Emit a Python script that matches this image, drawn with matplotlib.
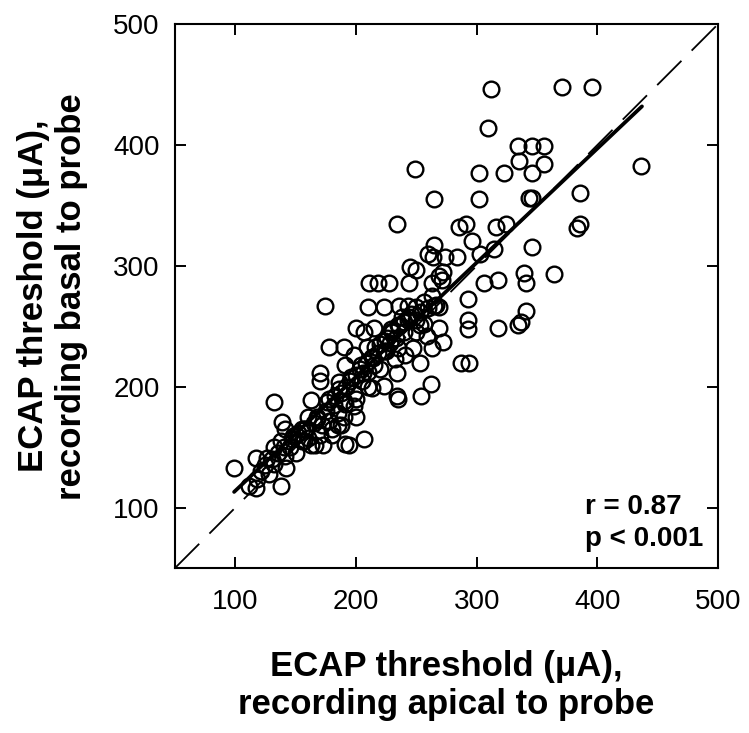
import numpy as np
import matplotlib
matplotlib.use("Agg")
import matplotlib.pyplot as plt

plt.rcParams['font.family'] = ['Liberation Sans', 'DejaVu Sans']

# thresholds (uA)
apical = [312, 371, 396, 309, 334, 346, 356, 335, 356, 346, 436, 249, 302, 323,
          265, 302, 343, 346, 386, 386, 383, 234, 285, 291, 316, 324, 296, 265,
          260, 264, 274, 284, 303, 314, 346, 245, 250, 272, 269, 211, 218, 227,
          244, 263, 271, 306, 318, 339, 341, 364, 174, 210, 223, 236, 243, 250,
          265, 269, 293, 341, 337, 334, 293, 293, 318, 200, 207, 215, 229, 235,
          240, 253, 269, 250, 259, 178, 190, 198, 209, 216, 225, 235, 247, 263,
          272, 232, 241, 253, 287, 294, 170, 170, 191, 206, 186, 223, 234, 213,
          262, 234, 235, 254, 132, 163, 176, 183, 191, 198, 200, 185, 168, 158,
          139, 141, 148, 157, 163, 173, 191, 194, 207, 138, 132, 126, 117, 141,
          142, 132, 121, 118, 111, 117, 138, 99,
          150, 155, 160, 165, 168, 172, 175, 178, 182, 185, 188, 190, 192, 195,
          198, 200, 203, 205, 208, 210, 213, 215, 218, 220, 223, 226, 228, 230,
          233, 236, 240, 243, 246, 250, 253, 256, 260, 263, 266, 160, 170, 180,
          190, 200, 210, 220, 145, 150, 155, 140, 135, 130, 125, 128, 178, 186,
          196, 204, 214, 224, 244, 256, 180, 188, 166, 152, 147, 158, 230, 238]
basal = [446, 448, 448, 414, 399, 399, 399, 387, 384, 377, 383, 380, 377, 377,
         355, 355, 356, 356, 360, 335, 331, 335, 332, 335, 332, 335, 321, 317,
         310, 307, 307, 307, 310, 314, 316, 299, 297, 295, 292, 286, 286, 286,
         286, 286, 288, 286, 288, 294, 286, 293, 267, 266, 266, 267, 267, 266,
         267, 266, 273, 263, 254, 251, 255, 248, 249, 249, 245, 249, 248, 251,
         254, 251, 249, 245, 242, 233, 233, 226, 233, 233, 230, 232, 232, 232,
         237, 223, 226, 220, 220, 220, 211, 205, 218, 211, 204, 201, 211, 199,
         202, 192, 190, 192, 187, 189, 187, 192, 186, 184, 175, 168, 173, 165,
         171, 165, 159, 155, 152, 152, 153, 152, 157, 155, 150, 141, 141, 143,
         133, 136, 130, 124, 118, 116, 118, 133,
         160, 165, 158, 170, 175, 168, 180, 172, 185, 178, 195, 188, 200, 205,
         195, 210, 215, 205, 220, 212, 225, 218, 228, 235, 230, 240, 236, 245,
         240, 250, 245, 255, 260, 255, 262, 270, 265, 275, 268, 175, 160, 165,
         175, 190, 200, 215, 150, 145, 155, 150, 145, 140, 135, 128, 190, 198,
         208, 218, 224, 238, 258, 252, 160, 168, 152, 162, 157, 165, 246, 258]

# fitted regression line, end points
fit_x = [99, 437]
fit_y = [113, 432]
unity = [50, 500]

fig = plt.figure(figsize=(7.49, 7.33), dpi=100)
ax = fig.add_axes([0.2336, 0.225, 0.725, 0.742])

ax.plot(unity, unity, color='black', lw=1.3, dashes=(19, 8))
ax.plot(apical, basal, 'o', ls='none', mfc='none', mec='black', ms=11.3, mew=1.7)
ax.plot(fit_x, fit_y, color='black', lw=2.7, solid_capstyle='round')

ax.set_xlim(50, 500)
ax.set_ylim(50, 500)
ax.set_xticks([100, 200, 300, 400, 500])
ax.set_yticks([100, 200, 300, 400, 500])
ax.tick_params(direction='in', length=8, width=1.4, labelsize=20,
               top=True, right=True)
ax.tick_params(axis='x', pad=15)
ax.tick_params(axis='y', pad=11)
for s in ax.spines.values():
    s.set_linewidth(1.5)

ax.set_xlabel('ECAP threshold (μA),\nrecording apical to probe',
              fontsize=25, fontweight='bold', labelpad=25, linespacing=1.2)
ax.set_ylabel('ECAP threshold (μA),\nrecording basal to probe',
              fontsize=25, fontweight='bold', labelpad=18, linespacing=1.2)

ax.text(0.755, 0.112, 'r = 0.87', transform=ax.transAxes, ha='left', va='center',
        fontsize=20, fontweight='bold')
ax.text(0.755, 0.053, 'p < 0.001', transform=ax.transAxes, ha='left', va='center',
        fontsize=20, fontweight='bold')

fig.savefig('out.png', dpi=100)
